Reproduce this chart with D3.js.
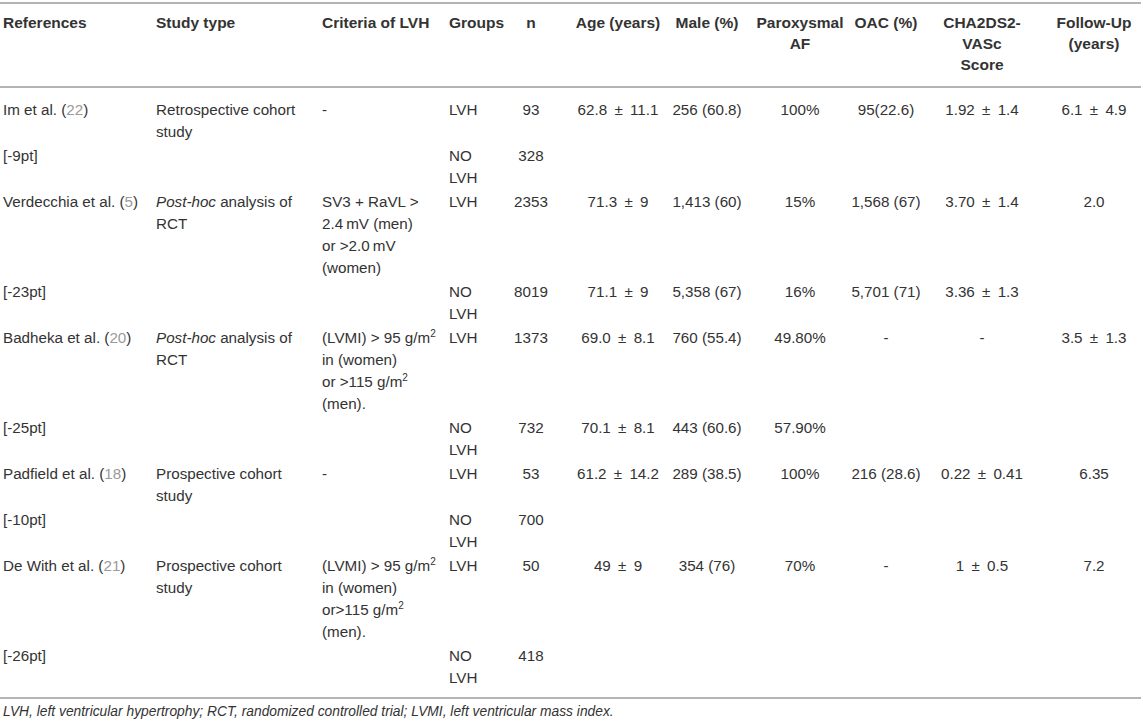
<!DOCTYPE html>
<html><head><meta charset="utf-8">
<script src="https://cdn.jsdelivr.net/npm/d3@7"></script>
<style>
body{margin:0;background:#fff}
svg{display:block}
text{font-family:"Liberation Sans",Arial,Helvetica,sans-serif}
</style>
</head><body>
<svg id="c" width="1143" height="725"></svg>
<script>
// ---- data ----
const columns = ["References","Study type","Criteria of LVH","Groups","n","Age (years)","Male (%)","Paroxysmal AF","OAC (%)","CHA2DS2-VASc Score","Follow-Up (years)"];
const headerLines = [["References"],["Study type"],["Criteria of LVH"],["Groups"],["n"],["Age (years)"],["Male (%)"],["Paroxysmal","AF"],["OAC (%)"],["CHA2DS2-","VASc","Score"],["Follow-Up","(years)"]];
const references = ["Im et al. ({22})","[-9pt]","Verdecchia et al. ({5})","[-23pt]","Badheka et al. ({20})","[-25pt]","Padfield et al. ({18})","[-10pt]","De With et al. ({21})","[-26pt]"];
const studyType = [["Retrospective cohort","study"],[],["*Post-hoc* analysis of","RCT"],[],["*Post-hoc* analysis of","RCT"],[],["Prospective cohort","study"],[],["Prospective cohort","study"],[]];
const criteria = [["-"],[],["SV3 + RaVL >","2.4\u2009mV (men)","or >2.0\u2009mV","(women)"],[],["(LVMI) > 95 g/m^2","in (women)","or >115 g/m^2","(men)."],[],["-"],[],["(LVMI) > 95 g/m^2","in (women)","or>115 g/m^2","(men)."],[]];
const groups = [["LVH"],["NO","LVH"],["LVH"],["NO","LVH"],["LVH"],["NO","LVH"],["LVH"],["NO","LVH"],["LVH"],["NO","LVH"]];
const nValues = ["93","328","2353","8019","1373","732","53","700","50","418"];
const age = ["62.8 ± 11.1","","71.3 ± 9","71.1 ± 9","69.0 ± 8.1","70.1 ± 8.1","61.2 ± 14.2","","49 ± 9",""];
const male = ["256 (60.8)","","1,413 (60)","5,358 (67)","760 (55.4)","443 (60.6)","289 (38.5)","","354 (76)",""];
const paroxysmalAF = ["100%","","15%","16%","49.80%","57.90%","100%","","70%",""];
const oac = ["95(22.6)","","1,568 (67)","5,701 (71)","-","","216 (28.6)","","-",""];
const cha2ds2vasc = ["1.92 ± 1.4","","3.70 ± 1.4","3.36 ± 1.3","-","","0.22 ± 0.41","","1 ± 0.5",""];
const followUp = ["6.1 ± 4.9","","2.0","","3.5 ± 1.3","","6.35","","7.2",""];
const footnote = "LVH, left ventricular hypertrophy; RCT, randomized controlled trial; LVMI, left ventricular mass index.";

// ---- build table ----
const asLines = v => Array.isArray(v) ? v : (v === "" ? [] : [v]);
const rows = references.map((r,i) => [
  asLines(r), studyType[i], criteria[i], groups[i], asLines(nValues[i]), asLines(age[i]),
  asLines(male[i]), asLines(paroxysmalAF[i]), asLines(oac[i]), asLines(cha2ds2vasc[i]), asLines(followUp[i])
]);

// ---- layout ----
const W = 1143, FS = 15.2, HFS = 15.5, LINE = 22, GAP = 2;
const TEXT = "#333", CITE = "#9a9a9a", RULE = "#b4b4b4";
const x = d3.scaleOrdinal().domain(columns).range([3,156,322,449,531,618,707,800,886,982,1094]);
const anchor = d3.scaleOrdinal().domain(columns).range(["start","start","start","start","middle","middle","middle","middle","middle","middle","middle"]);
const lineY = d3.scaleLinear().domain([0,1]).range([0,LINE]);

const rowLines = rows.map(r => d3.max(r, c => c.length));
const rowHeights = rowLines.map(n => lineY(n) + GAP);
const firstRowY = 110;
const rowStart = [0, ...d3.cumsum(rowHeights)].slice(0, rows.length).map(v => firstRowY + v);
const headerY = 22.5, headerLineH = 21;
const topRule = 3, headRule = 87, bottomRule = 698;

const svg = d3.select("#c");
svg.append("rect").attr("width",W).attr("height",725).attr("fill","#fff");

function rule(y){
  svg.append("line").attr("x1",0).attr("x2",1141).attr("y1",y).attr("y2",y)
    .attr("stroke",RULE).attr("stroke-width",2);
}
rule(topRule); rule(headRule); rule(bottomRule);

function writeLine(g, str){
  str = str.replace(/ ± /g, " \u2009±\u2009 ");
  const parts = str.split(/(\*[^*]+\*|\{[^}]+\}|\^[0-9]+)/).filter(s => s !== "");
  let shifted = false;
  parts.forEach(p => {
    const t = g.append("tspan");
    if (shifted) { t.attr("dy", 6); shifted = false; }
    if (p.startsWith("*")) { t.text(p.slice(1,-1)).attr("font-style","italic"); }
    else if (p.startsWith("{")) { t.text(p.slice(1,-1)).attr("fill", CITE); }
    else if (p.startsWith("^")) { t.text(p.slice(1)).attr("font-size",10).attr("dy",-6); shifted = true; }
    else t.text(p);
  });
}

function cell(lines, col, y0, lh, bold){
  lines.forEach((ln, k) => {
    const t = svg.append("text")
      .attr("x", x(col))
      .attr("y", y0 + k*lh)
      .attr("dy","0.35em")
      .attr("text-anchor", anchor(col))
      .attr("font-size", bold ? HFS : FS)
      .attr("font-weight", bold ? "bold" : "normal")
      .attr("fill", TEXT);
    writeLine(t, ln);
  });
}

// header
headerLines.forEach((h,i) => cell(h, columns[i], headerY, headerLineH, true));

// body
rows.forEach((r, ri) => {
  r.forEach((c, ci) => cell(c, columns[ci], rowStart[ri], LINE, false));
});

// footnote
svg.append("text").attr("x",3).attr("y",711).attr("dy","0.35em")
  .attr("font-size",13.8).attr("font-style","italic").attr("fill",TEXT).text(footnote);
</script>
</body></html>
